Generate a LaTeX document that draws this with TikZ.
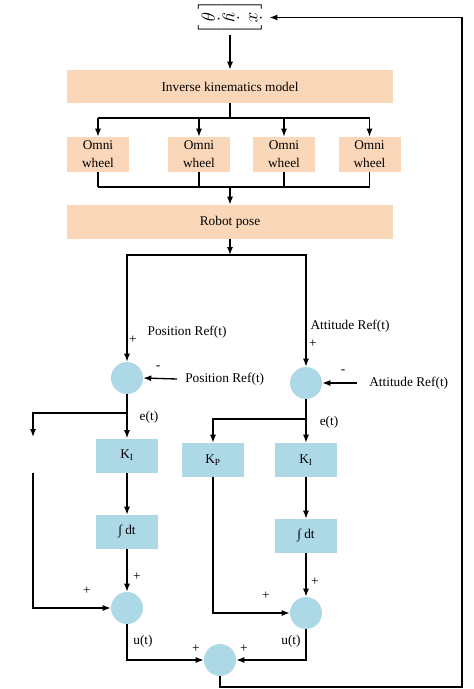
\documentclass[tikz,border=0pt]{standalone}
\usepackage{fontspec}
\setmainfont{Liberation Serif}
\usetikzlibrary{arrows.meta, calc, positioning}
\definecolor{peach}{RGB}{251,215,186}
\definecolor{paleBlue}{RGB}{173,216,230}
\tikzset{
    peachBox/.style={rectangle, fill=peach, inner sep=1pt, align=center, font=\fontsize{10}{13.5}\selectfont},
    wheelBox/.style={peachBox, minimum width=46.5pt, minimum height=26.25pt},
    gainBox/.style={rectangle, fill=paleBlue, minimum width=46.5pt, minimum height=25.5pt, font=\fontsize{10}{12}\selectfont},
    sumNode/.style={circle, fill=paleBlue, inner sep=0pt, minimum size=24pt},
    sign/.style={inner sep=1pt, font=\fontsize{10}{12}\selectfont},
    ctrlEdge/.style={-{Latex[length=6pt, width=4.5pt]}, line width=1pt},
    ctrlLine/.style={line width=1pt},
}
\newcommand{\drawLink}[2]{\draw[ctrlEdge] (#1) -- (#2);}

\begin{document}
\begin{tikzpicture}[x=0.75pt, y=-0.75pt]
    \useasboundingbox (0,0) rectangle (474,689);

        % velocity vector and kinematics
        \node[rotate=-90, inner sep=0pt, font=\Large] (vel) at (230,17.5) {\renewcommand{\arraystretch}{0.95}$\left[\begin{array}{@{\hspace{2pt}}c@{\hspace{2pt}}}\dot{x}\\ \dot{y}\\ \dot{\theta}\end{array}\right]$};
        \node[peachBox, minimum width=244.5pt, minimum height=24.75pt] (ik) at (230,86.5) {Inverse kinematics model};
        \foreach \i/\x in {1/98, 2/199, 3/284, 4/369.5}
            \node[wheelBox] (w\i) at (\x,154.5) {Omni\\wheel};
        \node[peachBox, minimum width=244.5pt, minimum height=25.5pt] (pose) at (230,222) {Robot pose};

        \coordinate (ikSplit) at (230,118);
        \coordinate (wheelJoin) at (230,187);
        \coordinate (poseSplit) at (230,255);

        \drawLink{vel.east}{ik.north}
        \draw[ctrlLine] (ik.south) -- (ikSplit);
        \draw[ctrlLine] (w1.north |- ikSplit) -- (w4.north |- ikSplit);
        \draw[ctrlLine] (w1.south |- wheelJoin) -- (w4.south |- wheelJoin);
        \foreach \i in {1,...,4} {
            \drawLink{w\i.north |- ikSplit}{w\i.north}
            \draw[ctrlLine] (w\i.south) -- (w\i.south |- wheelJoin);
        }
        \drawLink{wheelJoin}{pose.north}
        \drawLink{pose.south}{poseSplit}

        % first summing points
        \node[sumNode] (sumP) at (127,378) {};
        \node[sumNode] (sumA) at (306,383) {};
        \draw[ctrlEdge] (poseSplit) -| (sumP.north);
        \draw[ctrlEdge] (poseSplit) -| (sumA.north);

        \node[sign, anchor=west] (posLbl) at (146,332) {Position Ref(t)};
        \node[sign, anchor=west] (attLbl) at (309,326) {Attitude Ref(t)};
        \node[sign] (plusP) at (133,340) {+};
        \node[sign] (plusA) at (313,344) {+};
        \node[sign, anchor=west, inner xsep=6pt] (posRef) at (177,379) {Position Ref(t)};
        \node[sign, anchor=west, inner xsep=9pt] (attRef) at (357,383) {Attitude Ref(t)};
        \node[sign] (minusP) at (158,368) {-};
        \node[sign] (minusA) at (343,372) {-};
        \drawLink{posRef.west}{sumP.east}
        \drawLink{attRef.west}{sumA.east}

        % controllers
        \node[gainBox] (kiP) at (127,455.5) {K\textsubscript{I}};
        \node[gainBox] (kpA) at (213,460) {K\textsubscript{P}};
        \node[gainBox] (kiA) at (306,460) {K\textsubscript{I}};
        \node[gainBox] (intP) at (127,532) {∫ dt};
        \node[gainBox] (intA) at (306,536) {∫ dt};
        \node[sumNode] (sumP2) at (127,608) {};
        \node[sumNode] (sumA2) at (306,613) {};
        \node[sumNode] (sumAll) at (220,660) {};

        \coordinate (eSplitP) at (127,413);
        \coordinate (eSplitA) at (306,419);
        \coordinate (gapTop) at (33,437);
        \coordinate (gapBot) at (33,473);
        \coordinate (fbCorner) at (462,687);

        \drawLink{sumP.south}{kiP.north}
        \draw[ctrlEdge] (eSplitP) -| (gapTop);
        \draw[ctrlEdge] (gapBot) |- (sumP2.west);
        \drawLink{kiP}{intP}
        \drawLink{intP}{sumP2}
        \drawLink{sumA.south}{kiA.north}
        \draw[ctrlEdge] (eSplitA) -| (kpA.north);
        \draw[ctrlEdge] (kpA.south) |- (sumA2.west);
        \drawLink{kiA}{intA}
        \drawLink{intA}{sumA2}
        \draw[ctrlEdge] (sumP2.south) |- (sumAll.west);
        \draw[ctrlEdge] (sumA2.south) |- (sumAll.east);
        \draw[ctrlEdge, shorten >=3pt] (sumAll.south) |- (fbCorner) |- (vel.north);

        \node[sign] (eP) at (149,417) {e(t)};
        \node[sign] (eA) at (329,422) {e(t)};
        \node[sign] (plusP2) at (137,577) {+};
        \node[sign] (plusP3) at (87,591) {+};
        \node[sign] (plusA2) at (315,582) {+};
        \node[sign] (plusA3) at (266,596) {+};
        \node[sign] (uP) at (143,641) {u(t)};
        \node[sign] (uA) at (291,641) {u(t)};
        \node[sign] (plusL) at (196,649) {+};
        \node[sign] (plusR) at (244,649) {+};

    \end{tikzpicture}
\end{document}
